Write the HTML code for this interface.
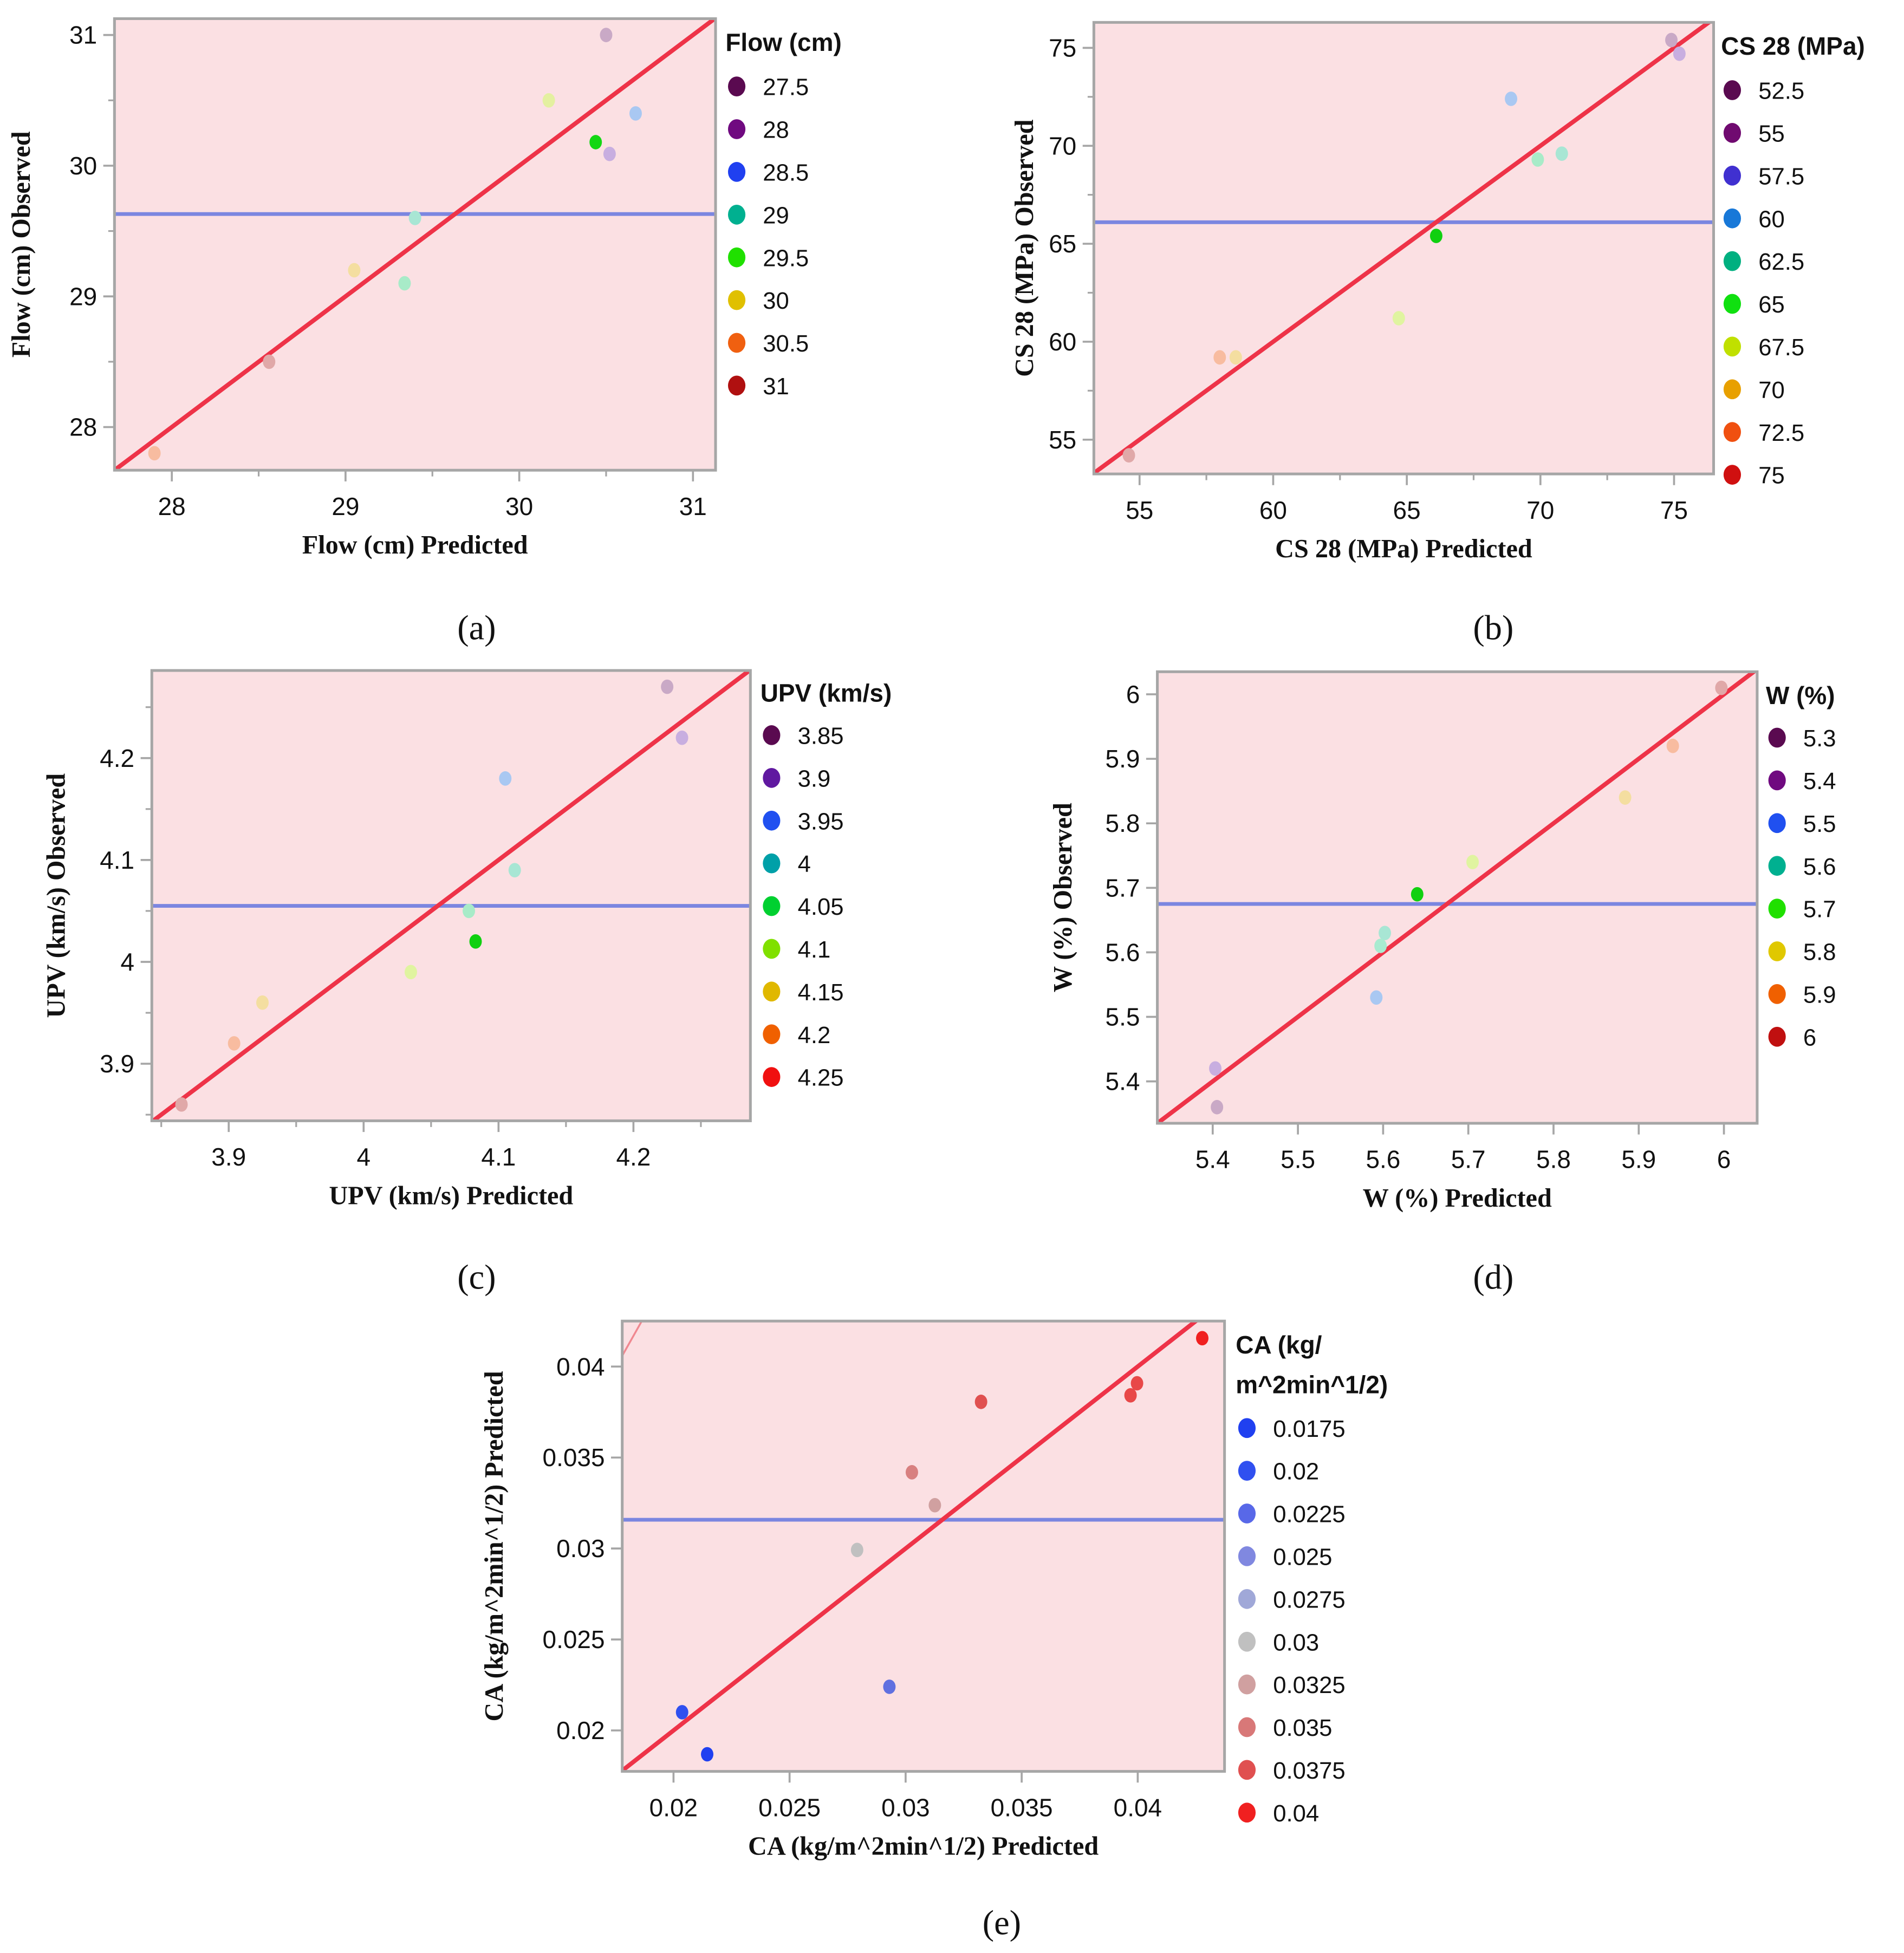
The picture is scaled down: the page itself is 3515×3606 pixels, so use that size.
<!DOCTYPE html>
<html>
<head>
<meta charset="utf-8">
<style>
html,body{margin:0;padding:0;background:#fff;overflow:hidden;width:3515px;height:3606px;}
svg{display:block;}
.tick{font-family:"Liberation Sans",sans-serif;font-size:20px;fill:#111;}
.leg{font-family:"Liberation Sans",sans-serif;font-size:19px;fill:#111;}
.legt{font-family:"Liberation Sans",sans-serif;font-size:20px;font-weight:bold;fill:#111;}
.axt{font-family:"Liberation Serif",serif;font-size:21px;font-weight:bold;fill:#111;}
.plab{font-family:"Liberation Serif",serif;font-size:28px;fill:#111;}
</style>
</head>
<body>
<svg id="fig" width="3515" height="3606" viewBox="0 0 1530 1570" preserveAspectRatio="none" xmlns="http://www.w3.org/2000/svg">
<rect x="0" y="0" width="1530" height="1570" fill="#fff"/>
</svg>
<script>
// ---------- Panel (a) Flow ----------
const aPred=[30.5,30.17,30.67,30.44,30.52,29.4,29.05,29.34,28.56,27.9];
const aObs=[31.0,30.5,30.4,30.18,30.09,29.6,29.2,29.1,28.5,27.8];
const aPtColors=['#c9a9c6','#e4f0a0','#a9c8f2','#14d714','#c8aee0','#a8e6d4','#f4dea0','#a8ebc8','#e0a8a8','#f8bca0'];
const aXTicks=[28,29,30,31];
const aYTicks=[28,29,30,31];
const aMinor=[28.5,29.5,30.5];
const aMean=29.63;
const aLegLabels=['27.5','28','28.5','29','29.5','30','30.5','31'];
const aLegColors=['#5a0a50','#700a80','#2040f0','#00b090','#20e000','#e0c000','#f06010','#b01010'];

// ---------- Panel (b) CS 28 ----------
const bPred=[74.9,75.2,68.9,70.8,69.9,66.1,64.7,58.0,58.6,54.6];
const bObs=[75.4,74.7,72.4,69.6,69.3,65.4,61.2,59.2,59.2,54.2];
const bPtColors=['#c9a9c6','#c8aee0','#a9c8f2','#a8e6d4','#a8ebc8','#10d010','#e0f4a0','#f8bca0','#f4dea0','#e0a8a8'];
const bXTicks=[55,60,65,70,75];
const bYTicks=[55,60,65,70,75];
const bMinor=[57.5,62.5,67.5,72.5];
const bMean=66.1;
const bLegLabels=['52.5','55','57.5','60','62.5','65','67.5','70','72.5','75'];
const bLegColors=['#5a0a50','#700a70','#4030d0','#1878d8','#00b080','#10e010','#c0e000','#e8a000','#f05010','#d01010'];

// ---------- Panel (c) UPV ----------
const cPred=[4.225,4.236,4.105,4.112,4.078,4.083,4.035,3.925,3.904,3.865];
const cObs=[4.27,4.22,4.18,4.09,4.05,4.02,3.99,3.96,3.92,3.86];
const cPtColors=['#c9a9c6','#c8aee0','#a9c8f2','#a8e6d4','#a8ebc8','#10d010','#e0f4a0','#f4dea0','#f8bca0','#e0a8a8'];
const cXTicks=[3.9,4,4.1,4.2];
const cYTicks=[3.9,4,4.1,4.2];
const cMinor=[3.85,3.95,4.05,4.15,4.25];
const cMean=4.055;
const cLegLabels=['3.85','3.9','3.95','4','4.05','4.1','4.15','4.2','4.25'];
const cLegColors=['#5a0a50','#6018a0','#2050f0','#00a0a8','#00d030','#80e000','#e0b800','#f06000','#f01010'];

// ---------- Panel (d) W ----------
const dPred=[5.997,5.94,5.884,5.705,5.64,5.602,5.597,5.592,5.403,5.405];
const dObs=[6.01,5.92,5.84,5.74,5.69,5.63,5.61,5.53,5.42,5.36];
const dPtColors=['#e0a8a8','#f8bca0','#f4dea0','#e0f4a0','#10d010','#a8e6d4','#a8ebd0','#a9c8f2','#c8aee0','#c9a9c6'];
const dXTicks=[5.4,5.5,5.6,5.7,5.8,5.9,6];
const dYTicks=[5.4,5.5,5.6,5.7,5.8,5.9,6];
const dMinor=[];
const dMean=5.675;
const dLegLabels=['5.3','5.4','5.5','5.6','5.7','5.8','5.9','6'];
const dLegColors=['#5a0a50','#700a80','#2050f0','#00b090','#20e000','#e0c800','#f06000','#c01010'];

// ---------- Panel (e) CA ----------
const ePred=[0.04278,0.03997,0.03969,0.03325,0.03027,0.03126,0.02791,0.0293,0.02037,0.02145];
const eObs=[0.04156,0.03908,0.03842,0.03806,0.03419,0.03238,0.02992,0.0224,0.0210,0.01869];
const ePtColors=['#f02020','#e84848','#e84848','#e05050','#d88080','#d0a0a0','#c0c0c0','#6070e0','#3050f0','#2040f0'];
const eXTicks=[0.02,0.025,0.03,0.035,0.04];
const eYTicks=[0.02,0.025,0.03,0.035,0.04];
const eMinor=[];
const eMean=0.03158;
const eLegLabels=['0.0175','0.02','0.0225','0.025','0.0275','0.03','0.0325','0.035','0.0375','0.04'];
const eLegColors=['#2040f0','#3050f0','#5868e8','#8088e0','#a0a8d8','#c0c0c0','#d0a0a0','#d87878','#e05050','#f02020'];

const NS='http://www.w3.org/2000/svg';
const fig=document.getElementById('fig');
function mk(tag,attrs,parent){const e=document.createElementNS(NS,tag);for(const k in attrs)e.setAttribute(k,attrs[k]);(parent||fig).appendChild(e);return e;}

function panel(o){
  const g=mk('g',{});
  
  
  const sx=v=>o.L+(v-o.x0)/(o.x1-o.x0)*(o.R-o.L);
  const sy=v=>o.B-(v-o.y0)/(o.y1-o.y0)*(o.B-o.T);
  const bg=mk('rect',{x:o.L,y:o.T,width:o.R-o.L,height:o.B-o.T,fill:'#fbe0e3'},g);
  
  
  const clipId='clip-'+o.id;
  const cp=mk('clipPath',{id:clipId},g);
  mk('rect',{x:o.L,y:o.T,width:o.R-o.L,height:o.B-o.T},cp);
  const inner=mk('g',{'clip-path':'url(#'+clipId+')'},g);
  if(o.extra){
    const ex=mk('line',{x1:sx(o.extra[0]),y1:sy(o.extra[1]),x2:sx(o.extra[2]),y2:sy(o.extra[3]),stroke:'#f08890','stroke-width':1.5},inner);
    
    
  }
  const ml=mk('line',{x1:o.L,x2:o.R,y1:sy(o.mean),y2:sy(o.mean),stroke:'#7b86e0','stroke-width':3},inner);
  
  
  const lo=Math.min(o.x0,o.y0)-1, hi=Math.max(o.x1,o.y1)+1;
  const fl=mk('line',{x1:sx(lo),y1:sy(lo),x2:sx(hi),y2:sy(hi),stroke:'#ee3348','stroke-width':3.5},inner);
  
  
  for(let i=0;i<o.pred.length;i++){
    const p=mk('ellipse',{cx:sx(o.pred[i]),cy:sy(o.obs[i]),rx:5,ry:5.8,fill:o.pc[i]},inner);
    
    
  }
  const fr=mk('rect',{x:o.L,y:o.T,width:o.R-o.L,height:o.B-o.T,fill:'none',stroke:'#a6a6a6','stroke-width':2.2},g);
  
  
  o.xt.forEach(v=>{
    mk('line',{x1:sx(v),x2:sx(v),y1:o.B,y2:o.B+9,stroke:'#a6a6a6','stroke-width':1.6},g);
    const t=mk('text',{x:sx(v),y:o.B+36,'text-anchor':'middle',class:'tick'},g);
    t.textContent=String(v);
    
    
  });
  o.minor.forEach(v=>{
    mk('line',{x1:sx(v),x2:sx(v),y1:o.B,y2:o.B+5,stroke:'#a6a6a6','stroke-width':1.4},g);
    mk('line',{x1:o.L,x2:o.L-5,y1:sy(v),y2:sy(v),stroke:'#a6a6a6','stroke-width':1.4},g);
  });
  o.yt.forEach(v=>{
    mk('line',{x1:o.L,x2:o.L-9,y1:sy(v),y2:sy(v),stroke:'#a6a6a6','stroke-width':1.6},g);
    const t=mk('text',{x:o.L-14,y:sy(v)+7,'text-anchor':'end',class:'tick'},g);
    t.textContent=String(v);
    
    
  });
  const xt=mk('text',{x:(o.L+o.R)/2,y:o.B+67,'text-anchor':'middle',class:'axt'},g);
  xt.textContent=o.xTitle;
  
  
  const yc=(o.T+o.B)/2;
  const yt=mk('text',{x:o.yTitleX,y:yc,'text-anchor':'middle',class:'axt',transform:'rotate(-90 '+o.yTitleX+' '+yc+')'},g);
  yt.textContent=o.yTitle;
  
  
  const lg=mk('g',{},g);
  
  
  o.legTitle.forEach((s,k)=>{
    const t=mk('text',{x:o.legX-9,y:o.legTitleY+k*32+7,class:'legt'},lg);
    t.textContent=s;
    
    
  });
  o.ll.forEach((s,k)=>{
    const y=o.legY+k*34.35;
    const c=mk('ellipse',{cx:o.legX,cy:y,rx:7,ry:8,fill:o.lc[k]},lg);
    
    
    const t=mk('text',{x:o.legX+21,y:y+7,class:'leg'},lg);
    t.textContent=s;
    
    
  });
  const pl=mk('text',{x:o.labX,y:o.labY,'text-anchor':'middle',class:'plab'},g);
  pl.textContent=o.label;
  
  
}

panel({id:'flow',L:92,R:575,T:15,B:378,x0:27.67,x1:31.13,y0:27.67,y1:31.125,
  pred:aPred,obs:aObs,pc:aPtColors,xt:aXTicks,yt:aYTicks,minor:aMinor,mean:aMean,
  xTitle:'Flow (cm) Predicted',yTitle:'Flow (cm) Observed',yTitleX:24,
  legTitle:['Flow (cm)'],legTitleY:34,legX:592,legY:69.5,ll:aLegLabels,lc:aLegColors,
  label:'(a)',labX:383,labY:514});

panel({id:'cs28',L:879,R:1377,T:18,B:381,x0:53.29,x1:76.48,y0:53.25,y1:76.3,
  pred:bPred,obs:bObs,pc:bPtColors,xt:bXTicks,yt:bYTicks,minor:bMinor,mean:bMean,
  xTitle:'CS 28 (MPa) Predicted',yTitle:'CS 28 (MPa) Observed',yTitleX:830,
  legTitle:['CS 28 (MPa)'],legTitleY:37,legX:1392,legY:72.5,ll:bLegLabels,lc:bLegColors,
  label:'(b)',labX:1200,labY:514});

panel({id:'upv',L:122,R:603,T:539,B:901,x0:3.843,x1:4.2867,y0:3.844,y1:4.286,
  pred:cPred,obs:cObs,pc:cPtColors,xt:cXTicks,yt:cYTicks,minor:cMinor,mean:cMean,
  xTitle:'UPV (km/s) Predicted',yTitle:'UPV (km/s) Observed',yTitleX:52,
  legTitle:['UPV (km/s)'],legTitleY:557,legX:620,legY:591,ll:cLegLabels,lc:cLegColors,
  label:'(c)',labX:383,labY:1036});

panel({id:'water',L:930,R:1412,T:540,B:903,x0:5.335,x1:6.039,y0:5.335,y1:6.035,
  pred:dPred,obs:dObs,pc:dPtColors,xt:dXTicks,yt:dYTicks,minor:dMinor,mean:dMean,
  xTitle:'W (%) Predicted',yTitle:'W (%) Observed',yTitleX:861,
  legTitle:['W (%)'],legTitleY:559,legX:1428,legY:593,ll:dLegLabels,lc:dLegColors,
  label:'(d)',labX:1200,labY:1036});

panel({id:'ca',L:500,R:984,T:1062,B:1424,x0:0.01779,x1:0.04374,y0:0.01775,y1:0.0425,
  pred:ePred,obs:eObs,pc:ePtColors,xt:eXTicks,yt:eYTicks,minor:eMinor,mean:eMean,
  extra:[0.01775,0.0405,0.01872,0.0427],
  xTitle:'CA (kg/m^2min^1/2) Predicted',yTitle:'CA (kg/m^2min^1/2) Predicted',yTitleX:404,
  legTitle:['CA (kg/','m^2min^1/2)'],legTitleY:1081,legX:1002,legY:1148,ll:eLegLabels,lc:eLegColors,
  label:'(e)',labX:805,labY:1555});
</script>
</body>
</html>
